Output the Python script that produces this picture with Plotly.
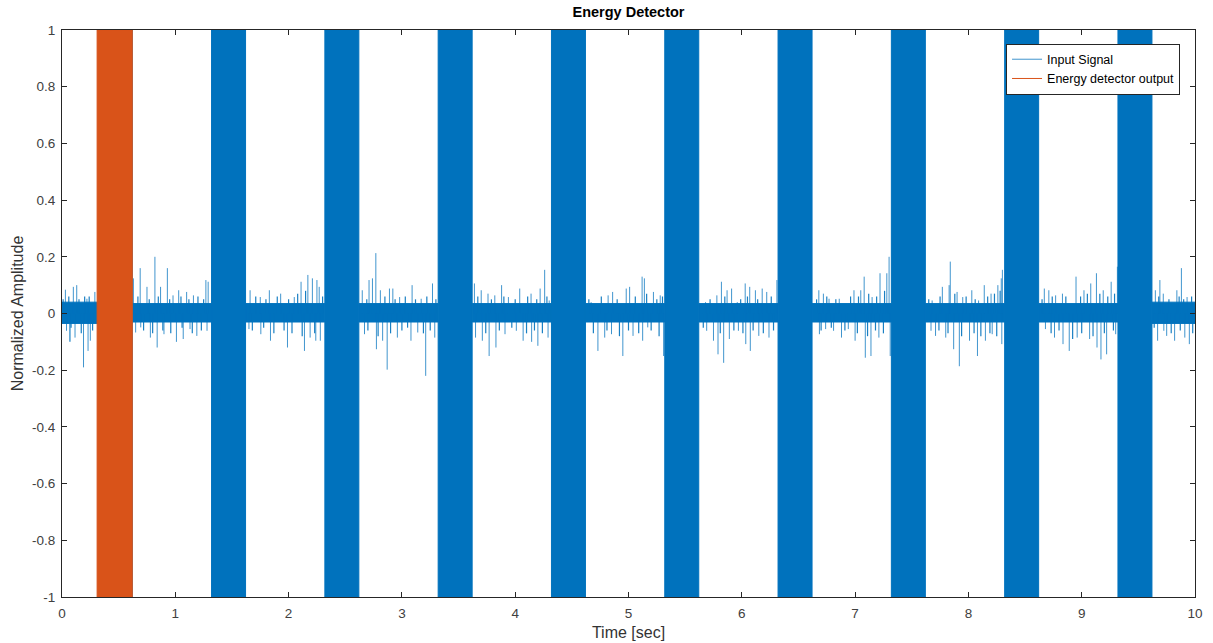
import plotly.graph_objects as go

# ---------------- data ----------------
burst_start = [0.32, 1.32, 2.32, 3.32, 4.32, 5.32, 6.32, 7.32, 8.32, 9.32]
burst_end = [0.62, 1.62, 2.62, 3.62, 4.62, 5.62, 6.62, 7.62, 8.62, 9.62]
burst_hi = [1, 1, 1, 1, 1, 1, 1, 1, 1, 1]
burst_lo = [-1, -1, -1, -1, -1, -1, -1, -1, -1, -1]

detector_start = [0.31]
detector_end = [0.62]
detector_hi = [1]
detector_lo = [-1]

# dense noise floor between bursts (11 gaps)
band_hi = [0.04, 0.035, 0.035, 0.035, 0.035, 0.035, 0.035, 0.035, 0.035, 0.035, 0.04]
band_lo = [-0.035, -0.03, -0.03, -0.03, -0.03, -0.03, -0.03, -0.03, -0.03, -0.03, -0.035]

# larger noise spikes (time, value)
spike_t = [
    0.03, 0.10, 0.13, 0.22, 0.29, 0.04, 0.115, 0.19, 0.23, 0.25,
    0.63, 0.69, 0.75, 0.82, 0.87, 0.93, 0.98, 1.03, 1.10, 1.16, 1.27, 1.29,
    0.65, 0.695, 0.78, 0.84, 0.90, 1.01, 1.07, 1.13, 1.19, 1.28,
    1.66, 1.75, 1.83, 1.93, 2.05, 2.11, 2.17, 2.21, 2.25, 2.27,
    1.65, 1.755, 1.84, 1.99, 2.14, 2.19, 2.24, 2.28,
    2.65, 2.71, 2.74, 2.77, 2.81, 2.89, 2.92, 2.98, 3.09, 3.17, 3.27,
    2.67, 2.775, 2.83, 2.87, 2.96, 3.08, 3.14, 3.21, 3.29,
    3.64, 3.70, 3.76, 3.82, 3.88, 3.94, 4.04, 4.14, 4.22, 4.26, 4.30,
    3.65, 3.71, 3.77, 3.83, 3.91, 4.01, 4.07, 4.145, 4.20, 4.29,
    4.67, 4.82, 4.86, 4.98, 5.01, 5.12, 5.14, 5.22, 5.28,
    4.73, 4.79, 4.85, 4.95, 5.04, 5.125, 5.17, 5.31,
    5.68, 5.78, 5.82, 5.87, 5.91, 5.96, 6.03, 6.07, 6.12, 6.18, 6.22, 6.31,
    5.69, 5.75, 5.79, 5.84, 5.89, 5.97, 6.035, 6.075, 6.15, 6.24,
    6.68, 6.72, 6.77, 6.86, 6.99, 7.05, 7.08, 7.15, 7.22, 7.28, 7.30,
    6.685, 6.74, 6.81, 6.88, 6.94, 7.00, 7.09, 7.14, 7.21, 7.31,
    7.68, 7.77, 7.83, 7.84, 7.90, 7.95, 8.03, 8.09, 8.14, 8.20, 8.26, 8.29, 8.30,
    7.67, 7.71, 7.80, 7.87, 7.92, 8.01, 8.08, 8.15, 8.21, 8.295,
    8.67, 8.71, 8.77, 8.83, 8.95, 9.02, 9.08, 9.13, 9.19, 9.26, 9.315,
    8.68, 8.76, 8.835, 8.89, 8.96, 9.07, 9.135, 9.17, 9.22, 9.30,
    9.65, 9.69, 9.72, 9.84, 9.88, 9.93,
    9.67, 9.725, 9.75, 9.82, 9.91, 9.95,
]
spike_v = [
    0.084, 0.094, 0.10, 0.052, 0.076, -0.061, -0.085, -0.19, -0.132, -0.096,
    0.124, 0.16, 0.094, 0.20, 0.094, 0.16, 0.064, 0.082, 0.076, 0.064, 0.118, 0.112,
    -0.067, -0.049, -0.085, -0.12, -0.073, -0.10, -0.09, -0.055, -0.079, -0.061,
    0.082, 0.058, 0.082, 0.07, 0.058, 0.112, 0.136, 0.124, 0.118, 0.094,
    -0.055, -0.073, -0.096, -0.12, -0.132, -0.085, -0.096, -0.096,
    0.082, 0.118, 0.124, 0.213, 0.082, 0.088, 0.088, 0.058, 0.10, 0.052, 0.106,
    -0.073, -0.126, -0.096, -0.198, -0.085, -0.096, -0.067, -0.22, -0.085,
    0.106, 0.082, 0.07, 0.064, 0.10, 0.058, 0.088, 0.07, 0.088, 0.154, 0.046,
    -0.085, -0.096, -0.15, -0.12, -0.073, -0.061, -0.096, -0.10, -0.114, -0.085,
    0.04, 0.064, 0.076, 0.088, 0.094, 0.13, 0.124, 0.076, 0.064,
    -0.132, -0.085, -0.073, -0.15, -0.079, -0.096, -0.049, -0.15,
    0.04, 0.064, 0.112, 0.082, 0.088, 0.04, 0.106, 0.094, 0.082, 0.088, 0.076, 0.118,
    -0.061, -0.096, -0.144, -0.174, -0.09, -0.061, -0.108, -0.132, -0.079, -0.085,
    0.082, 0.07, 0.052, 0.052, 0.082, 0.082, 0.13, 0.058, 0.142, 0.142, 0.20,
    -0.073, -0.055, -0.061, -0.085, -0.055, -0.096, -0.156, -0.15, -0.085, -0.15,
    0.046, 0.094, 0.10, 0.183, 0.076, 0.058, 0.082, 0.046, 0.10, 0.07, 0.10, 0.124, 0.154,
    -0.061, -0.079, -0.085, -0.126, -0.186, -0.096, -0.15, -0.096, -0.073, -0.108,
    0.088, 0.082, 0.064, 0.07, 0.13, 0.082, 0.106, 0.142, 0.082, 0.112, 0.165,
    -0.055, -0.085, -0.108, -0.132, -0.085, -0.09, -0.12, -0.162, -0.144, -0.073,
    0.082, 0.118, 0.07, 0.082, 0.16, 0.058,
    -0.096, -0.061, -0.079, -0.096, -0.085, -0.108,
]

# smaller spikes forming the ragged edge of the noise floor (time, value)
minor_t = [
    0.01, 0.06, 0.08, 0.15, 0.17, 0.20, 0.27, 0.07, 0.24,
    0.67, 0.72, 0.77, 0.80, 0.85, 0.89, 0.95, 0.96, 1.05, 1.06, 1.12, 1.15, 1.20, 1.23, 1.25,
    1.68, 1.71, 1.78, 1.80, 1.87, 1.90, 1.96, 2.00, 2.03, 2.08, 2.12, 2.15, 2.23, 2.30,
    2.69, 2.70, 2.79, 2.85, 2.90, 2.94, 3.00, 3.03, 3.05, 3.12, 3.19, 3.22, 3.25, 3.30,
    3.67, 3.74, 3.79, 3.86, 3.90, 3.97, 4.00, 4.10, 4.11, 4.17, 4.19, 4.24, 4.28,
    4.65, 4.69, 4.76, 4.81, 4.90, 4.92, 5.00, 5.06, 5.09, 5.16, 5.20, 5.25, 5.27, 5.30,
    5.66, 5.72, 5.81, 5.85, 5.93, 5.99, 6.01, 6.05, 6.10, 6.14, 6.19, 6.26, 6.28,
    6.66, 6.70, 6.75, 6.79, 6.83, 6.91, 6.96, 7.02, 7.03, 7.11, 7.12, 7.18, 7.19, 7.25, 7.26,
    7.65, 7.74, 7.75, 7.82, 7.88, 7.94, 7.98, 8.05, 8.06, 8.11, 8.17, 8.19, 8.23, 8.25, 8.28,
    8.65, 8.73, 8.74, 8.80, 8.86, 8.92, 8.99, 9.00, 9.05, 9.10, 9.16, 9.20, 9.23, 9.28, 9.29,
    9.64, 9.68, 9.77, 9.79, 9.86, 9.87, 9.90, 9.97, 9.98,
]
minor_v = [
    0.05, 0.06, -0.05, 0.05, -0.07, 0.06, -0.06, -0.10, 0.06,
    0.06, -0.06, 0.05, -0.07, 0.06, -0.06, 0.05, -0.07, 0.06, -0.05, 0.05, -0.07, 0.06, -0.06, 0.05,
    -0.06, 0.06, -0.05, 0.05, -0.07, 0.06, -0.06, 0.05, -0.07, 0.07, -0.08, 0.08, -0.07, 0.06,
    0.05, -0.06, -0.08, 0.06, -0.07, 0.05, -0.06, 0.06, -0.05, 0.05, -0.07, 0.06, -0.06, 0.05,
    0.06, -0.07, 0.05, -0.06, 0.06, -0.05, 0.05, -0.07, 0.06, -0.06, 0.05, -0.07, 0.06,
    0.05, -0.07, 0.06, -0.06, 0.05, -0.08, -0.06, 0.06, -0.07, 0.07, -0.06, 0.05, -0.08, 0.06,
    -0.05, 0.05, -0.07, 0.06, -0.06, 0.05, -0.07, 0.06, -0.06, 0.05, -0.07, 0.06, -0.06,
    0.05, -0.06, 0.06, -0.05, 0.05, -0.06, 0.06, -0.07, 0.06, -0.08, 0.07, -0.06, 0.06, -0.07, 0.08,
    0.05, -0.06, 0.06, -0.07, 0.07, -0.08, 0.06, -0.07, 0.05, -0.08, 0.06, -0.07, 0.07, -0.08, 0.08,
    0.05, -0.07, 0.06, -0.06, 0.06, -0.09, 0.06, -0.07, 0.07, -0.08, 0.07, -0.07, 0.06, -0.06, 0.07,
    -0.05, 0.06, 0.05, -0.07, 0.06, -0.06, 0.05, 0.06, -0.07,
]

x_tickvals = [0, 1, 2, 3, 4, 5, 6, 7, 8, 9, 10]
x_ticktext = ["0", "1", "2", "3", "4", "5", "6", "7", "8", "9", "10"]
y_tickvals = [-1, -0.8, -0.6, -0.4, -0.2, 0, 0.2, 0.4, 0.6, 0.8, 1]
y_ticktext = ["-1", "-0.8", "-0.6", "-0.4", "-0.2", "0", "0.2", "0.4", "0.6", "0.8", "1"]

BLUE = "#0072BD"
ORANGE = "#D95319"
AX = "#262626"
FONT = "Liberation Sans, Arial, sans-serif"

# ---------------- helpers to build polygon paths ----------------
def rects(x0s, x1s, his, los):
    xs, ys = [], []
    for a, b, h, l in zip(x0s, x1s, his, los):
        xs += [a, b, b, a, a, None]
        ys += [l, l, h, h, l, None]
    return xs, ys

def stems(ts, vs):
    xs, ys = [], []
    for t, v in zip(ts, vs):
        xs += [t, t, None]
        ys += [0, v, None]
    return xs, ys

gap_start = [0] + burst_end
gap_end = burst_start + [10]

fig = go.Figure()

# noise floor band
bx, by = rects(gap_start, gap_end, band_hi, band_lo)
fig.add_trace(go.Scatter(x=bx, y=by, mode="lines", fill="toself",
                         fillcolor=BLUE, line=dict(color=BLUE, width=1),
                         showlegend=False, hoverinfo="skip"))

# small spikes (ragged edge)
mx, my = stems(minor_t, minor_v)
fig.add_trace(go.Scatter(x=mx, y=my, mode="lines",
                         line=dict(color="rgba(0,114,189,0.9)", width=1.2),
                         showlegend=False, hoverinfo="skip"))

# large spikes
sx, sy = stems(spike_t, spike_v)
fig.add_trace(go.Scatter(x=sx, y=sy, mode="lines", name="Input Signal",
                         line=dict(color="rgba(0,114,189,0.75)", width=1),
                         hoverinfo="skip", legendgroup="sig"))

# bursts
rx, ry = rects(burst_start, burst_end, burst_hi, burst_lo)
fig.add_trace(go.Scatter(x=rx, y=ry, mode="lines", fill="toself",
                         fillcolor=BLUE, line=dict(color=BLUE, width=1),
                         showlegend=False, hoverinfo="skip", legendgroup="sig"))

# energy detector output
dx, dy = rects(detector_start, detector_end, detector_hi, detector_lo)
fig.add_trace(go.Scatter(x=dx, y=dy, mode="lines", fill="toself",
                         fillcolor=ORANGE, line=dict(color=ORANGE, width=1),
                         showlegend=False, hoverinfo="skip", legendgroup="det"))
# legend entry for detector (line symbol)
fig.add_trace(go.Scatter(x=[None], y=[None], mode="lines",
                         name="Energy detector output",
                         line=dict(color=ORANGE, width=1), legendgroup="det"))

fig.update_layout(
    width=1213, height=643,
    margin=dict(l=62, r=18, t=30, b=46, autoexpand=False),
    paper_bgcolor="white", plot_bgcolor="white",
    font=dict(family=FONT, size=12, color=AX),
    title=dict(text="<b>Energy Detector</b>", x=(62 + 1195) / 2 / 1213,
               xanchor="center", y=1 - 12 / 643, yanchor="middle",
               font=dict(family=FONT, size=14.5, color="black")),
    showlegend=True,
    legend=dict(x=0.9868, y=0.976, xanchor="right", yanchor="top",
                bgcolor="white", bordercolor=AX, borderwidth=1,
                font=dict(family=FONT, size=12.5, color="black"),
                tracegroupgap=0, itemwidth=30),
)
fig.update_xaxes(range=[0, 10], tickvals=x_tickvals, ticktext=x_ticktext,
                 showline=True, linecolor=AX, linewidth=1, mirror="ticks",
                 ticks="inside", ticklen=5, tickcolor=AX, showgrid=False,
                 zeroline=False, ticklabelstandoff=4, automargin=False,
                 title=dict(text="Time [sec]", standoff=6,
                            font=dict(size=16, color="#333333")),
                 tickfont=dict(size=13.5, color="#404040"))
fig.update_yaxes(range=[-1, 1], tickvals=y_tickvals, ticktext=y_ticktext,
                 showline=True, linecolor=AX, linewidth=1, mirror="ticks",
                 ticks="inside", ticklen=5, tickcolor=AX, showgrid=False,
                 zeroline=False, ticklabelstandoff=3, automargin=False,
                 title=dict(text="Normalized Amplitude", standoff=4,
                            font=dict(size=16, color="#333333")),
                 tickfont=dict(size=13.5, color="#404040"))

fig.write_html("out.html")
